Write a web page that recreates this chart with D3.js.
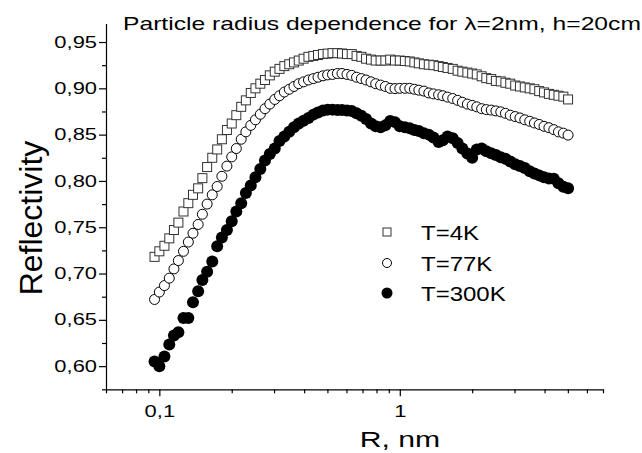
<!DOCTYPE html>
<html>
<head>
<meta charset="utf-8">
<script src="https://cdn.jsdelivr.net/npm/d3@7"></script>
<style>
  body { margin: 0; background: #fff; }
  text { font-family: "Liberation Sans", Arial, sans-serif; fill: #000; }
</style>
</head>
<body>
<svg id="chart" width="642" height="453"></svg>
<script>
// particle radius, nm (same grid for all three temperatures)
const radius = [
  0.0955, 0.100, 0.105, 0.110, 0.115, 0.120, 0.126, 0.132, 0.138, 0.145,
  0.151, 0.158, 0.166, 0.174, 0.182, 0.191, 0.200, 0.209, 0.219, 0.229,
  0.240, 0.251, 0.263, 0.275, 0.288, 0.302, 0.316, 0.331, 0.347, 0.363,
  0.380, 0.398, 0.417, 0.437, 0.457, 0.479, 0.501, 0.525, 0.550, 0.575,
  0.603, 0.631, 0.661, 0.692, 0.724, 0.759, 0.794, 0.832, 0.871, 0.912,
  0.955, 1.00, 1.05, 1.10, 1.15, 1.20, 1.26, 1.32, 1.38, 1.45,
  1.51, 1.58, 1.66, 1.74, 1.82, 1.91, 2.00, 2.09, 2.19, 2.29,
  2.40, 2.51, 2.63, 2.75, 2.88, 3.02, 3.16, 3.31, 3.47, 3.63,
  3.80, 3.98, 4.17, 4.37, 4.57, 4.79, 5.01
];

const refl4K = [
  0.718, 0.724, 0.730, 0.738, 0.747, 0.755, 0.767, 0.776, 0.785, 0.792,
  0.803, 0.815, 0.825, 0.834, 0.845, 0.855, 0.862, 0.871, 0.880, 0.887,
  0.895, 0.900, 0.905, 0.909, 0.914, 0.918, 0.921, 0.924, 0.926, 0.928,
  0.930, 0.932, 0.934, 0.935, 0.936, 0.937, 0.9375, 0.938, 0.938, 0.9376,
  0.937, 0.937, 0.935, 0.934, 0.932, 0.931, 0.930, 0.930, 0.930, 0.931,
  0.930, 0.930, 0.9295, 0.929, 0.928, 0.927, 0.926, 0.9255, 0.925, 0.924,
  0.923, 0.922, 0.921, 0.919, 0.918, 0.917, 0.916, 0.915, 0.913, 0.911,
  0.910, 0.908, 0.9075, 0.906, 0.905, 0.903, 0.902, 0.901, 0.900, 0.899,
  0.897, 0.8956, 0.894, 0.893, 0.892, 0.891, 0.888
];

const refl77K = [
  0.672, 0.680, 0.687, 0.695, 0.705, 0.714, 0.724, 0.734, 0.7435, 0.753,
  0.764, 0.775, 0.785, 0.794, 0.805, 0.816, 0.826, 0.835, 0.845, 0.853,
  0.860, 0.866, 0.872, 0.878, 0.883, 0.888, 0.892, 0.896, 0.899, 0.902,
  0.905, 0.907, 0.909, 0.9105, 0.912, 0.9135, 0.9145, 0.915, 0.916, 0.916,
  0.915, 0.914, 0.912, 0.9105, 0.909, 0.907, 0.905, 0.9035, 0.902, 0.900,
  0.8997, 0.900, 0.900, 0.900, 0.899, 0.898, 0.897, 0.895, 0.894, 0.893,
  0.892, 0.8905, 0.889, 0.887, 0.885, 0.883, 0.8816, 0.880, 0.878, 0.877,
  0.8765, 0.8756, 0.8746, 0.873, 0.871, 0.8695, 0.868, 0.866, 0.8644, 0.8626,
  0.861, 0.859, 0.8575, 0.8554, 0.853, 0.8516, 0.8495
];

const refl300K = [
  0.605, 0.600, 0.6105, 0.6235, 0.633, 0.6365, 0.652, 0.652, 0.669, 0.681,
  0.693, 0.702, 0.713, 0.7295, 0.739, 0.747, 0.7565, 0.767, 0.776, 0.787,
  0.795, 0.804, 0.813, 0.822, 0.829, 0.835, 0.843, 0.848, 0.853, 0.858,
  0.862, 0.865, 0.868, 0.8716, 0.874, 0.876, 0.877, 0.877, 0.8765, 0.8765,
  0.876, 0.8754, 0.873, 0.8705, 0.8668, 0.862, 0.859, 0.858, 0.860, 0.8646,
  0.8635, 0.859, 0.858, 0.857, 0.855, 0.854, 0.8516, 0.850, 0.847, 0.842,
  0.844, 0.848, 0.846, 0.841, 0.835, 0.8295, 0.825, 0.834, 0.835, 0.832,
  0.830, 0.828, 0.8257, 0.824, 0.821, 0.818, 0.816, 0.814, 0.8105, 0.808,
  0.806, 0.804, 0.8026, 0.8024, 0.7976, 0.7936, 0.792
];

const seriesNames = ["T=4K", "T=77K", "T=300K"];
const yMajor = [0.60, 0.65, 0.70, 0.75, 0.80, 0.85, 0.90, 0.95];
const yMinor = [0.575, 0.625, 0.675, 0.725, 0.775, 0.825, 0.875, 0.925];
const xMajor = [0.1, 1];
const xMinor = [0.06, 0.07, 0.08, 0.09, 0.2, 0.3, 0.4, 0.5, 0.6, 0.7, 0.8, 0.9, 2, 3, 4, 5, 6, 7];
const titleText = "Particle radius dependence for \u03bb=2nm, h=20cm";

const svg = d3.select("#chart");
const SX = 1.37; // the original picture is stretched sideways

const x = d3.scaleLog().domain([0.06, 7]).range([106, 603]);
const y = d3.scaleLinear().domain([0.575, 0.97]).range([389.3, 23.5]);

const comma = v => String(v).replace(".", ",");
const yFmt = v => v.toFixed(2).replace(".", ",");

// y axis
const gy = svg.append("g").attr("transform", "translate(106,0)");
gy.call(d3.axisLeft(y).tickValues(yMajor).tickSize(7).tickSizeOuter(0).tickFormat(yFmt));
gy.append("g").call(d3.axisLeft(y).tickValues(yMinor).tickSize(4).tickFormat(""))
  .select(".domain").remove();
gy.selectAll("text")
  .attr("font-size", 16)
  .attr("x", -9 / SX)
  .attr("transform", `scale(${SX},1)`);

// x axis
const gx = svg.append("g").attr("transform", "translate(0,389.3)");
gx.call(d3.axisBottom(x).tickValues(xMajor).tickSize(7).tickSizeOuter(0).tickFormat(comma));
gx.append("g").call(d3.axisBottom(x).tickValues(xMinor).tickSize(4).tickFormat(""))
  .select(".domain").remove();
gx.selectAll(".tick text").attr("font-size", 16).attr("dy", "1.1em")
  .attr("x", 0)
  .attr("transform", `scale(${SX},1)`);
svg.selectAll(".domain, .tick line").attr("stroke", "#000").attr("stroke-width", 1.2);

// titles
function stretchedText(px, py, txt, size, anchor, sx) {
  const g = svg.append("g").attr("transform", `translate(${px},${py}) scale(${sx},1)`);
  return g.append("text").attr("font-size", size).attr("text-anchor", anchor).text(txt);
}
stretchedText(123, 30, titleText, 18, "start", SX);
stretchedText(400, 447, "R, nm", 22, "middle", SX);
svg.append("text")
  .attr("transform", "translate(42,218) rotate(-90)")
  .attr("font-size", 32).attr("text-anchor", "middle")
  .text("Reflectivity");

// data
const pts = (vals) => radius.map((r, i) => ({ r, v: vals[i] }));

svg.append("g").selectAll("rect").data(pts(refl4K)).join("rect")
  .attr("x", d => x(d.r) - 4.5).attr("y", d => y(d.v) - 4.5)
  .attr("width", 9).attr("height", 9)
  .attr("fill", "#fff").attr("stroke", "#333").attr("stroke-width", 1);

svg.append("g").selectAll("circle").data(pts(refl77K)).join("circle")
  .attr("cx", d => x(d.r)).attr("cy", d => y(d.v)).attr("r", 5)
  .attr("fill", "#fff").attr("stroke", "#000").attr("stroke-width", 1);

svg.append("g").selectAll("circle").data(pts(refl300K)).join("circle")
  .attr("cx", d => x(d.r)).attr("cy", d => y(d.v)).attr("r", 6)
  .attr("fill", "#000");

// legend
const leg = svg.append("g").attr("transform", "translate(387,232)");
leg.append("rect").attr("x", -4).attr("y", -4).attr("width", 8).attr("height", 8)
  .attr("fill", "#fff").attr("stroke", "#333");
leg.append("circle").attr("cy", 31).attr("r", 4.5).attr("fill", "#fff").attr("stroke", "#000");
leg.append("circle").attr("cy", 61).attr("r", 5.5).attr("fill", "#000");
seriesNames.forEach((s, i) => {
  leg.append("g").attr("transform", `translate(34,${i * 30.5 + 8}) scale(1.2,1)`)
    .append("text").attr("font-size", 20).text(s);
});
</script>
</body>
</html>
